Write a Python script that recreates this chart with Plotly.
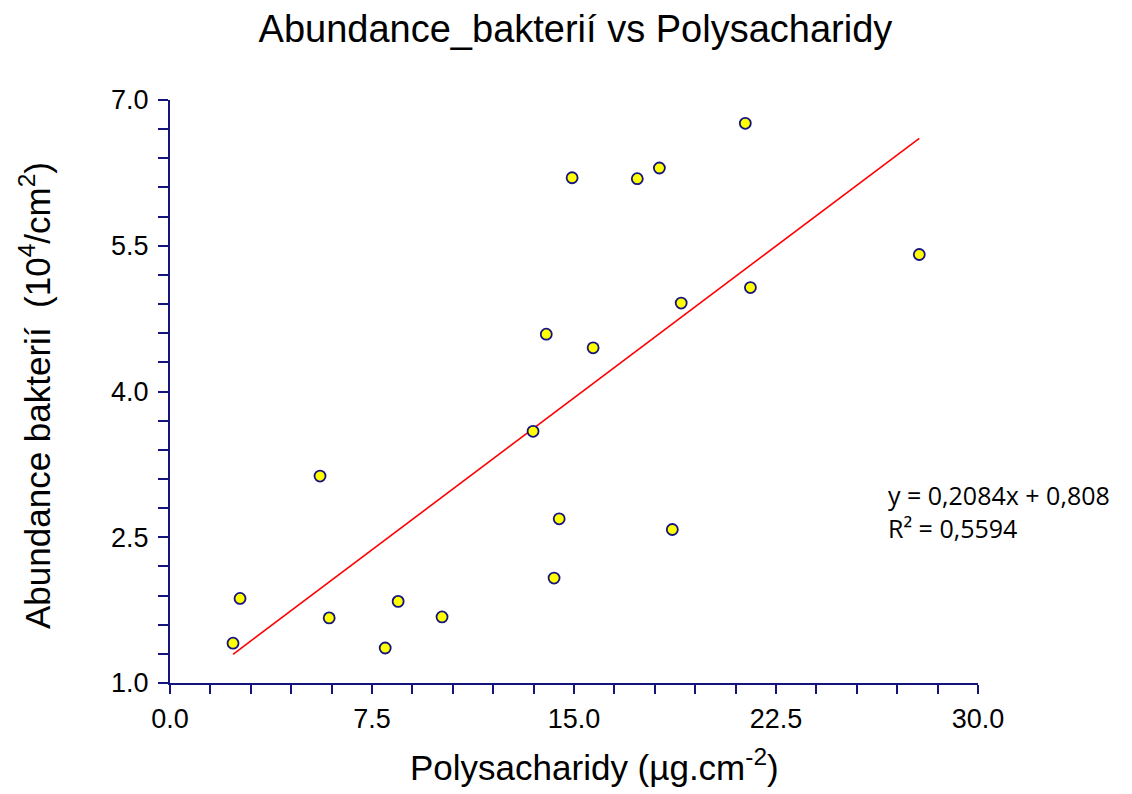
import plotly.graph_objects as go

polysacharidy = [2.34, 2.60, 5.57, 5.91, 7.99, 8.47, 10.10, 13.48, 13.97, 14.26,
                 14.45, 14.93, 15.71, 17.35, 18.17, 18.65, 18.98, 21.36, 21.55, 27.82]
abundance = [1.41, 1.87, 3.13, 1.67, 1.36, 1.84, 1.68, 3.59, 4.59, 2.08,
             2.69, 6.20, 4.45, 6.19, 6.30, 2.58, 4.91, 6.76, 5.07, 5.41]
slope = 0.2084
intercept = 0.808
r2 = 0.5594
x_ticks = [0.0, 7.5, 15.0, 22.5, 30.0]
y_ticks = [1.0, 2.5, 4.0, 5.5, 7.0]

navy = "#14147f"
W, H = 1124, 786
L, T, PW, PH = 162, 92, 808, 583
xmin, xmax = min(polysacharidy), max(polysacharidy)
line_x = [xmin, xmax]
line_y = [slope * v + intercept for v in line_x]

fig = go.Figure()
fig.add_trace(go.Scatter(x=line_x, y=line_y, mode="lines",
                         line=dict(color="#ff0000", width=1.6), hoverinfo="skip"))
fig.add_trace(go.Scatter(x=polysacharidy, y=abundance, mode="markers",
                         marker=dict(size=11, color="#ffff00",
                                     line=dict(color=navy, width=1.8))))

fig.update_layout(
    width=W, height=H,
    margin=dict(l=L, r=W - L - PW, t=T, b=H - T - PH, pad=0),
    paper_bgcolor="white", plot_bgcolor="white",
    showlegend=False,
    font=dict(family="Liberation Sans, Arial, sans-serif", color="black"),
    title=dict(text="Abundance_bakterií vs Polysacharidy", x=(572 - 8) / W, xref="paper",
               xanchor="center", y=1 - 21 / H, yanchor="middle",
               font=dict(size=38, color="black")),
)
fig.update_xaxes(
    range=[0, 30], tickvals=x_ticks, ticktext=[f"{v:.1f}" for v in x_ticks],
    showgrid=False, zeroline=False, showline=True, linecolor=navy, linewidth=2,
    ticks="outside", ticklen=9, tickwidth=2, tickcolor=navy,
    minor=dict(dtick=1.5, tick0=0, ticks="outside", ticklen=9, tickwidth=2, tickcolor=navy, showgrid=False),
    tickfont=dict(size=27, color="black"), ticklabelstandoff=2,
)
fig.update_yaxes(
    range=[1, 7], tickvals=y_ticks, ticktext=[f"{v:.1f}" for v in y_ticks],
    showgrid=False, zeroline=False, showline=True, linecolor=navy, linewidth=2,
    ticks="outside", ticklen=10, tickwidth=2, tickcolor=navy,
    minor=dict(dtick=0.3, tick0=1, ticks="outside", ticklen=10, tickwidth=2, tickcolor=navy, showgrid=False),
    tickfont=dict(size=27, color="black"), ticklabelstandoff=4,
)
# axis titles
fig.add_annotation(text="Polysacharidy (µg.cm<sup>-2</sup>)", xref="paper", yref="paper",
                   x=(594 - 8 - L) / PW, y=-(765 - 8 - T - PH) / PH, xanchor="center", yanchor="middle",
                   showarrow=False, font=dict(size=35, color="black"))
fig.add_annotation(text="Abundance bakterií  (10<sup>4</sup>/cm<sup>2</sup>)", xref="paper", yref="paper",
                   x=-(L - (35 - 8)) / PW, y=(T + PH - (396 - 8)) / PH, xanchor="center", yanchor="middle",
                   textangle=-90, showarrow=False, font=dict(size=35, color="black"))

eq_text = f"y = {slope:.4f}x + {intercept:.3f}".replace(".", ",") + "<br>" + f"R² = {r2:.4f}".replace(".", ",")
fig.add_annotation(text=eq_text, xref="paper", yref="paper",
                   x=(886 - 8 - L) / PW, y=(T + PH - (511 - 8)) / PH, xanchor="left", yanchor="middle",
                   align="left", showarrow=False,
                   font=dict(family="Open Sans, Noto Sans, sans-serif", size=25, color="black"))

fig.write_html("out.html")
